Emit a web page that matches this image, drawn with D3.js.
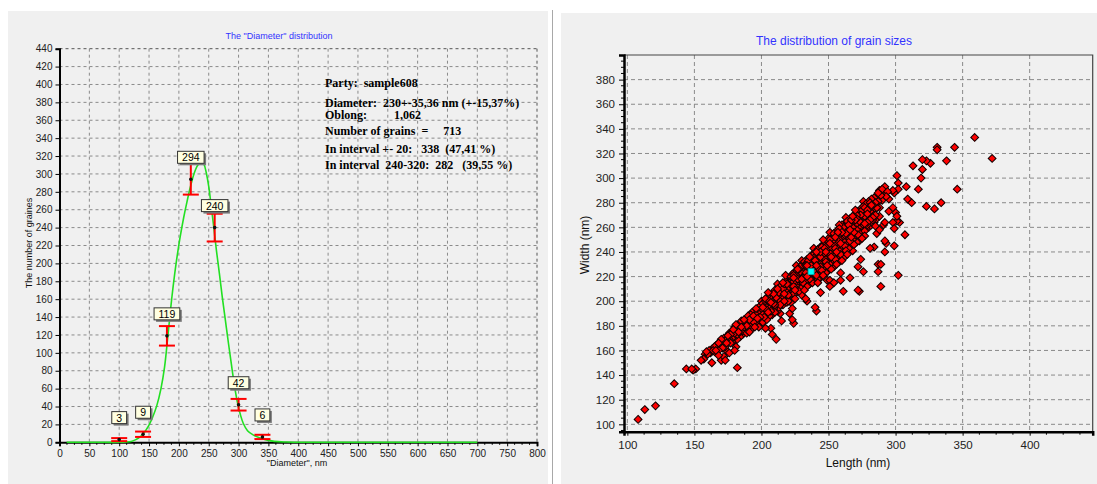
<!DOCTYPE html>
<html>
<head>
<meta charset="utf-8">
<script src="https://cdn.jsdelivr.net/npm/d3@7"></script>
<style>
  body { margin: 0; background: #ffffff; }
  svg { display: block; font-family: Arial, "Liberation Sans", sans-serif; }
  .info { white-space: pre; }
</style>
</head>
<body>
<svg id="chart" width="1097" height="484"></svg>
<script>
// ---- Diameter histogram ----
const binCenters = [100, 140, 180, 220, 260, 300, 340];
const binCounts  = [3, 9, 119, 294, 240, 42, 6];
const binErrors  = [1.7, 3, 10.9, 17.1, 15.5, 6.5, 2.4];

// fitted distribution curve
const fitDiameter = [12, 60, 100, 112, 120, 128, 135, 142, 149, 156, 163, 170, 176, 181, 186, 190, 196, 202, 208, 213, 218, 223, 228, 233, 238, 242, 246, 250, 254, 258, 263, 268, 273, 278, 283, 288, 293, 298, 303, 308, 315, 325, 335, 345, 360, 380, 450, 550, 700];
const fitCount    = [0, 0, 0, 0.3, 1, 3, 6, 11, 18, 28, 41, 60, 84, 115, 148, 172, 203, 229, 251, 267, 282, 295, 305, 311, 314, 311, 301, 286, 265, 243, 214, 188, 161, 136, 111, 87, 64, 45, 31, 21, 13, 8, 5, 3, 1, 0.3, 0, 0, 0];

const diameterTicks = [0, 50, 100, 150, 200, 250, 300, 350, 400, 450, 500, 550, 600, 650, 700, 750, 800];
const countTicks = [0, 20, 40, 60, 80, 100, 120, 140, 160, 180, 200, 220, 240, 260, 280, 300, 320, 340, 360, 380, 400, 420, 440];

const infoLines = [
  "Party:  sample608",
  "Diameter:  230+-35,36 nm (+-15,37%)",
  "Oblong:         1,062",
  "Number of grains  =     713",
  "In interval +- 20:   338  (47,41 %)",
  "In interval  240-320:  282   (39,55 %)"
];

// ---- Grain sizes scatter: [length, width] in nm ----
const grains = [
  [108,104],[113,112],[121,115],[135,133],[144,145],[148,145],[149,144],[151,145],[155,152],[157,153],[163,150],[173,152],[182,146],[170,152],
  [158,157],[159,159],[160,157],[161,160],[162,158],[163,161],[164,160],[165,163],[165,159],[166,164],[167,162],[168,166],[168,160],[169,167],[169,163],[170,165],[170,169],[171,162],[172,170],[172,166],
  [166,160],[168,156],[172,155],[176,158],[174,160],[180,160],[181,163],
  [173,168],[173,163],[174,171],[174,166],[175,172],[175,168],[176,169],[176,174],[177,166],[177,173],[178,175],[178,170],[179,168],[179,177],[180,174],[180,179],[180,171],[181,176],[181,181],[182,173],[182,178],[182,169],
  [183,180],[183,175],[184,182],[184,177],[184,171],[185,179],[185,184],[186,176],[186,181],[186,173],[187,185],[187,179],[188,183],[188,177],[189,186],[189,180],[189,174],[190,188],[190,183],[190,178],[191,185],[191,180],[192,189],[192,183],[192,177],
  [191,175],[193,178],[198,179],[203,178],[207,178],[208,173],[211,169],
  [193,191],[193,186],[193,181],[194,188],[194,183],[195,192],[195,185],[195,179],[196,194],[196,189],[196,183],[197,191],[197,186],[198,195],[198,190],[198,181],[199,193],[199,187],[200,197],[200,192],[200,186],[200,200],[201,195],[201,189],[201,183],[202,199],[202,193],[202,187],
  [203,202],[203,196],[203,190],[204,198],[204,193],[204,185],[205,203],[205,197],[205,191],[206,200],[206,194],[206,188],[207,205],[207,199],[207,192],[208,202],[208,196],[208,189],[209,206],[209,200],[209,194],[210,209],[210,203],[210,197],[210,191],[211,206],[211,200],[211,194],[212,210],[212,204],[212,198],[212,192],
  [213,212],[213,207],[213,201],[213,195],[214,209],[214,203],[214,197],[215,213],[215,206],[215,200],[216,215],[216,210],[216,204],[216,197],[217,212],[217,206],[217,200],[218,216],[218,209],[218,203],[219,214],[219,207],[219,199],[220,218],[220,212],[220,205],[220,200],[221,216],[221,209],[221,203],[222,220],[222,213],[222,206],[222,199],
  [221,190],[223,185],[224,182],[223,194],[214,190],[215,184],
  [223,222],[223,217],[223,210],[223,203],[224,219],[224,212],[224,206],[225,224],[225,216],[225,209],[225,202],[226,221],[226,214],[226,207],[227,226],[227,218],[227,211],[228,223],[228,216],[228,208],[229,228],[229,220],[229,213],[230,225],[230,218],[230,211],[230,205],[231,229],[231,222],[231,215],[232,232],[232,226],[232,219],[232,209],
  [233,202],[234,200],[240,195],[241,192],
  [233,229],[233,223],[233,216],[234,234],[234,227],[234,220],[234,212],[235,231],[235,224],[235,217],[236,236],[236,229],[236,221],[236,214],[237,233],[237,226],[237,218],[238,238],[238,231],[238,223],[238,215],[239,235],[239,228],[239,220],[240,240],[240,233],[240,225],[240,217],[241,237],[241,229],[241,221],[242,242],[242,235],[242,227],[242,215],
  [244,207],[242,218],[251,217],[249,217],[251,212],[254,215],[259,217],[259,223],[261,208],[266,219],[272,228],[273,208],[274,234],[276,224],[272,209],
  [243,239],[243,231],[243,223],[244,244],[244,236],[244,228],[244,219],[245,241],[245,233],[245,225],[246,246],[246,238],[246,230],[246,221],[247,243],[247,235],[247,227],[248,248],[248,240],[248,232],[248,223],[249,245],[249,237],[249,229],[250,251],[250,242],[250,234],[250,225],[251,247],[251,239],[251,230],[252,253],[252,244],[252,236],[252,226],
  [253,250],[253,241],[253,232],[254,255],[254,246],[254,238],[254,228],[255,252],[255,243],[255,234],[256,257],[256,248],[256,240],[256,230],[257,254],[257,245],[257,236],[258,259],[258,250],[258,241],[258,232],[259,256],[259,247],[259,238],[260,262],[260,252],[260,243],[260,233],[261,258],[261,249],[261,240],[262,263],[262,254],[262,245],[262,236],
  [263,260],[263,250],[263,241],[264,265],[264,256],[264,247],[264,238],[265,262],[265,252],[265,243],[266,267],[266,258],[266,249],[267,264],[267,254],[267,244],[268,269],[268,260],[268,250],[268,241],[269,265],[269,256],[269,246],[270,271],[270,262],[270,252],[271,267],[271,258],[271,248],[272,273],[272,263],[272,254],
  [273,269],[273,259],[273,249],[274,275],[274,265],[274,256],[275,271],[275,261],[275,251],[276,277],[276,267],[276,257],[277,272],[277,263],[277,253],[278,279],[278,269],[278,259],[279,274],[279,264],[280,281],[280,270],[280,260],[281,276],[281,266],[282,283],[282,272],[282,262],
  [283,278],[283,268],[284,284],[284,274],[284,264],[285,280],[285,270],[286,286],[286,276],[287,288],[287,281],[288,290],[288,284],[288,276],[289,286],[290,291],[290,282],[291,288],[292,293],[293,285],
  [277,257],[281,243],[284,244],[286,255],[288,258],[285,261],[283,266],[287,230],[287,224],[289,212],[289,230],[292,249],[293,247],[292,240],[299,245],[292,264],[298,264],[301,265],[303,264],[301,269],[299,259],[307,254],[302,221],
  [282,278],[286,276],[288,269],[291,262],[295,273],[298,276],[300,272],[288,288],[290,286],[295,283],[294,289],[298,290],[299,288],[302,291],[302,296],[301,302],[308,293],[309,283],[312,280],[313,310],[317,291],[319,300],[320,315],[323,314],[326,312],[320,307],[323,277],[329,275],[334,280],[331,325],[331,323],[338,314],[344,325],[346,291],[359,333],[372,316],
  [201,198],[204,201],[207,197],[209,198],[211,203],[213,204],[214,211],[216,207],[217,214],[219,210],[219,216],[221,219],[222,217],[224,221],[224,216],[226,224],[227,222],[227,215],[228,226],[229,224],[229,217],[230,228],[231,226],[231,219],[232,229],[233,231],[233,226],[234,229],[235,233],[235,227],[236,231],[237,235],[237,229],[238,234],[239,238],[239,231],[240,236],[241,240],[241,233],[242,238],[243,242],[243,235],[244,240],[245,244],[245,237],[246,242],[247,246],[247,239],[248,244],[249,248],[249,241],[250,246],[251,250],[251,243],[252,248],[253,252],[253,245],[254,250],[255,254],[255,247],[256,252],[257,256],[257,249],[258,254],[259,258],[259,251],[260,256],[261,260],[261,253],[262,258],[263,262],[263,255],[264,260],[265,264],[265,257],[266,262],[267,266],[267,259],[268,264],[269,268],[269,261],[270,266],[271,270],[271,263],[272,268],[273,272],[273,265],[274,270],[275,274],[275,267],[276,272],[277,276],[277,269],[278,274],[279,278],[279,271],[280,276],[281,280],[281,273],[282,278],
  [205,207],[218,221],[226,229],[230,233],[239,243],[246,250],[251,256],[263,268],[276,281],[212,214],[258,262],[270,274],
  [215,202],[222,209],[228,212],[236,218],[243,226],[249,232],[255,238],[261,244],[267,252],[273,256],[279,262],[285,266]
];
const grainMean = [237, 224];

const lengthTicks = [100, 150, 200, 250, 300, 350, 400];
const widthTicks = [100, 120, 140, 160, 180, 200, 220, 240, 260, 280, 300, 320, 340, 360, 380];

const svg = d3.select("#chart");

// ---- panel backgrounds ----
svg.append("rect").attr("x", 8).attr("y", 11).attr("width", 540).attr("height", 473).attr("fill", "#f0f0f0");
svg.append("rect").attr("x", 561).attr("y", 13).attr("width", 536).attr("height", 471).attr("fill", "#f0f0f0");
svg.append("line").attr("x1", 552.5).attr("x2", 552.5).attr("y1", 10).attr("y2", 484)
  .attr("stroke", "#a8a8a8").attr("stroke-width", 1);

// =============== Left: histogram ===============
const xD = d3.scaleLinear().domain([0, 800]).range([59.5, 537]);
const yC = d3.scaleLinear().domain([0, 440]).range([442.3, 48.7]);
const L = svg.append("g");

L.append("text").attr("x", 279).attr("y", 38.5).attr("text-anchor", "middle")
  .attr("font-size", 9).attr("fill", "#3333ff").text('The "Diameter" distribution');

// grid
L.append("g").selectAll("line").data(diameterTicks.slice(1)).join("line")
  .attr("x1", d => xD(d)).attr("x2", d => xD(d)).attr("y1", yC(440)).attr("y2", yC(0))
  .attr("stroke", d => d === 800 ? "#555" : "#8a8a8a").attr("stroke-dasharray", "3,3").attr("stroke-width", 1);
L.append("g").selectAll("line").data(countTicks.slice(1)).join("line")
  .attr("x1", xD(0)).attr("x2", xD(800)).attr("y1", d => yC(d)).attr("y2", d => yC(d))
  .attr("stroke", d => d === 440 ? "#555" : "#8a8a8a").attr("stroke-dasharray", "3,3").attr("stroke-width", 1);

// axes
const xAxL = d3.axisBottom(xD).tickValues(diameterTicks).tickSize(4).tickPadding(4);
const gxL = L.append("g").attr("transform", `translate(0,${yC(0)})`).call(xAxL);
const yAxL = d3.axisLeft(yC).tickValues(countTicks).tickSize(4).tickPadding(3);
const gyL = L.append("g").attr("transform", `translate(${xD(0)},0)`).call(yAxL);
[gxL, gyL].forEach(g => {
  g.select(".domain").attr("stroke", "#000").attr("stroke-width", 2);
  g.selectAll(".tick line").attr("stroke", "#000");
  g.selectAll(".tick text").attr("font-size", 10).attr("fill", "#222").attr("font-family", "Arial, 'Liberation Sans', sans-serif");
});
// minor ticks on the diameter axis
L.append("g").selectAll("line").data(d3.range(0, 800, 12.5).filter(v => v % 50 !== 0)).join("line")
  .attr("x1", d => xD(d)).attr("x2", d => xD(d)).attr("y1", yC(0)).attr("y2", yC(0) + 2.5)
  .attr("stroke", "#000");

L.append("text").attr("x", 297).attr("y", 466).attr("text-anchor", "middle")
  .attr("font-size", 9).attr("fill", "#111").text('"Diameter", nm');
L.append("text").attr("transform", "translate(32,243) rotate(-90)").attr("text-anchor", "middle")
  .attr("font-size", 9).attr("fill", "#111").text("The number of graines");

// fitted curve
const fitLine = d3.line().x(d => xD(d[0])).y(d => yC(d[1])).curve(d3.curveCatmullRom);
L.append("path").datum(fitDiameter.map((d, i) => [d, fitCount[i]]))
  .attr("d", fitLine).attr("fill", "none").attr("stroke", "#22e022").attr("stroke-width", 1.6);

// error bars
const bins = binCenters.map((c, i) => ({ c, n: binCounts[i], e: binErrors[i] }));
const eb = L.append("g").selectAll("g").data(bins).join("g");
eb.append("line").attr("x1", d => xD(d.c)).attr("x2", d => xD(d.c))
  .attr("y1", d => yC(d.n - d.e)).attr("y2", d => yC(d.n + d.e)).attr("stroke", "#ff0000").attr("stroke-width", 2);
eb.append("line").attr("x1", d => xD(d.c) - 8).attr("x2", d => xD(d.c) + 8)
  .attr("y1", d => yC(d.n + d.e)).attr("y2", d => yC(d.n + d.e)).attr("stroke", "#ff0000").attr("stroke-width", 2);
eb.append("line").attr("x1", d => xD(d.c) - 8).attr("x2", d => xD(d.c) + 8)
  .attr("y1", d => yC(d.n - d.e)).attr("y2", d => yC(d.n - d.e)).attr("stroke", "#ff0000").attr("stroke-width", 2);
eb.append("circle").attr("cx", d => xD(d.c)).attr("cy", d => yC(d.n)).attr("r", 1.8).attr("fill", "#111");

// value labels
const lab = L.append("g").selectAll("g").data(bins).join("g");
lab.append("text").attr("x", d => xD(d.c)).attr("y", d => yC(d.n) - 18)
  .attr("text-anchor", "middle").attr("font-size", 10.5).attr("fill", "#000").text(d => d.n);
lab.each(function (d) {
  const g = d3.select(this);
  const w = g.select("text").node().getComputedTextLength() + 9;
  const x0 = xD(d.c) - w / 2, y0 = yC(d.n) - 28;
  g.insert("rect", "text").attr("x", x0 + 2).attr("y", y0 + 2).attr("width", w).attr("height", 12).attr("fill", "#7a7a7a");
  g.insert("rect", "text").attr("x", x0).attr("y", y0).attr("width", w).attr("height", 12)
    .attr("fill", "#ffffe1").attr("stroke", "#333").attr("stroke-width", 1);
});

// statistics block
const infoY = [87.3, 106.5, 118.5, 135.3, 153, 169];
L.append("g").selectAll("text").data(infoLines).join("text").attr("class", "info")
  .attr("x", 325).attr("y", (d, i) => infoY[i])
  .attr("font-family", "'Liberation Serif', 'Times New Roman', serif").attr("font-weight", "bold")
  .attr("font-size", 12).attr("fill", "#000").text(d => d);

// =============== Right: scatter ===============
const xL = d3.scaleLinear().domain([97.5, 447]).range([624, 1092.7]);
const yW = d3.scaleLinear().domain([94, 400]).range([431.7, 55]);
const R = svg.append("g");

R.append("text").attr("x", 834).attr("y", 44.5).attr("text-anchor", "middle")
  .attr("font-size", 12).attr("fill", "#3333ff").text("The distribution of grain sizes");

R.append("g").selectAll("line").data(lengthTicks).join("line")
  .attr("x1", d => xL(d)).attr("x2", d => xL(d)).attr("y1", yW(400)).attr("y2", yW(94))
  .attr("stroke", "#8a8a8a").attr("stroke-dasharray", "4,3");
R.append("g").selectAll("line").data(widthTicks).join("line")
  .attr("x1", xL(97.5)).attr("x2", xL(447)).attr("y1", d => yW(d)).attr("y2", d => yW(d))
  .attr("stroke", "#8a8a8a").attr("stroke-dasharray", "4,3");
// frame top/right
R.append("path").attr("d", `M${xL(97.5)},${yW(400)}H${xL(447)}V${yW(94)}`)
  .attr("fill", "none").attr("stroke", "#444").attr("stroke-width", 1.2);

const xAxR = d3.axisBottom(xL).tickValues(lengthTicks).tickSize(4).tickPadding(5);
const gxR = R.append("g").attr("transform", `translate(0,${yW(94)})`).call(xAxR);
const yAxR = d3.axisLeft(yW).tickValues(widthTicks).tickSize(5).tickPadding(4);
const gyR = R.append("g").attr("transform", `translate(${xL(97.5)},0)`).call(yAxR);
[gxR, gyR].forEach(g => {
  g.select(".domain").attr("stroke", "#000").attr("stroke-width", 2.5);
  g.selectAll(".tick line").attr("stroke", "#000");
  g.selectAll(".tick text").attr("font-size", 11.5).attr("fill", "#222").attr("font-family", "Arial, 'Liberation Sans', sans-serif");
});
R.append("g").selectAll("line").data(d3.range(100, 447, 12.5).filter(v => v % 50 !== 0)).join("line")
  .attr("x1", d => xL(d)).attr("x2", d => xL(d)).attr("y1", yW(94)).attr("y2", yW(94) + 3)
  .attr("stroke", "#000");
R.append("g").selectAll("line").data(d3.range(95, 400, 5).filter(v => v % 20 !== 0)).join("line")
  .attr("x1", xL(97.5) - 3).attr("x2", xL(97.5)).attr("y1", d => yW(d)).attr("y2", d => yW(d))
  .attr("stroke", "#000");

R.append("text").attr("x", 858).attr("y", 467).attr("text-anchor", "middle")
  .attr("font-size", 12).attr("fill", "#111").text("Length (nm)");
R.append("text").attr("transform", "translate(589,245) rotate(-90)").attr("text-anchor", "middle")
  .attr("font-size", 12).attr("fill", "#111").text("Width (nm)");

// interleaved drawing order so overlapping markers don't stack into a ladder
const n = grains.length;
const drawOrder = d3.range(n).map(i => (i * 97) % n);
const diamond = "M0,-3.9L3.9,0L0,3.9L-3.9,0Z";
R.append("g").selectAll("path").data(drawOrder.map(i => grains[i])).join("path")
  .attr("transform", d => `translate(${xL(d[0])},${yW(d[1])})`)
  .attr("d", diamond).attr("fill", "#ff0000").attr("stroke", "#120000").attr("stroke-width", 1.05);

R.append("rect").attr("x", xL(grainMean[0]) - 3).attr("y", yW(grainMean[1]) - 3)
  .attr("width", 6).attr("height", 6).attr("fill", "#00ffff").attr("stroke", "#0aa").attr("stroke-width", 0.8);
</script>
</body>
</html>
